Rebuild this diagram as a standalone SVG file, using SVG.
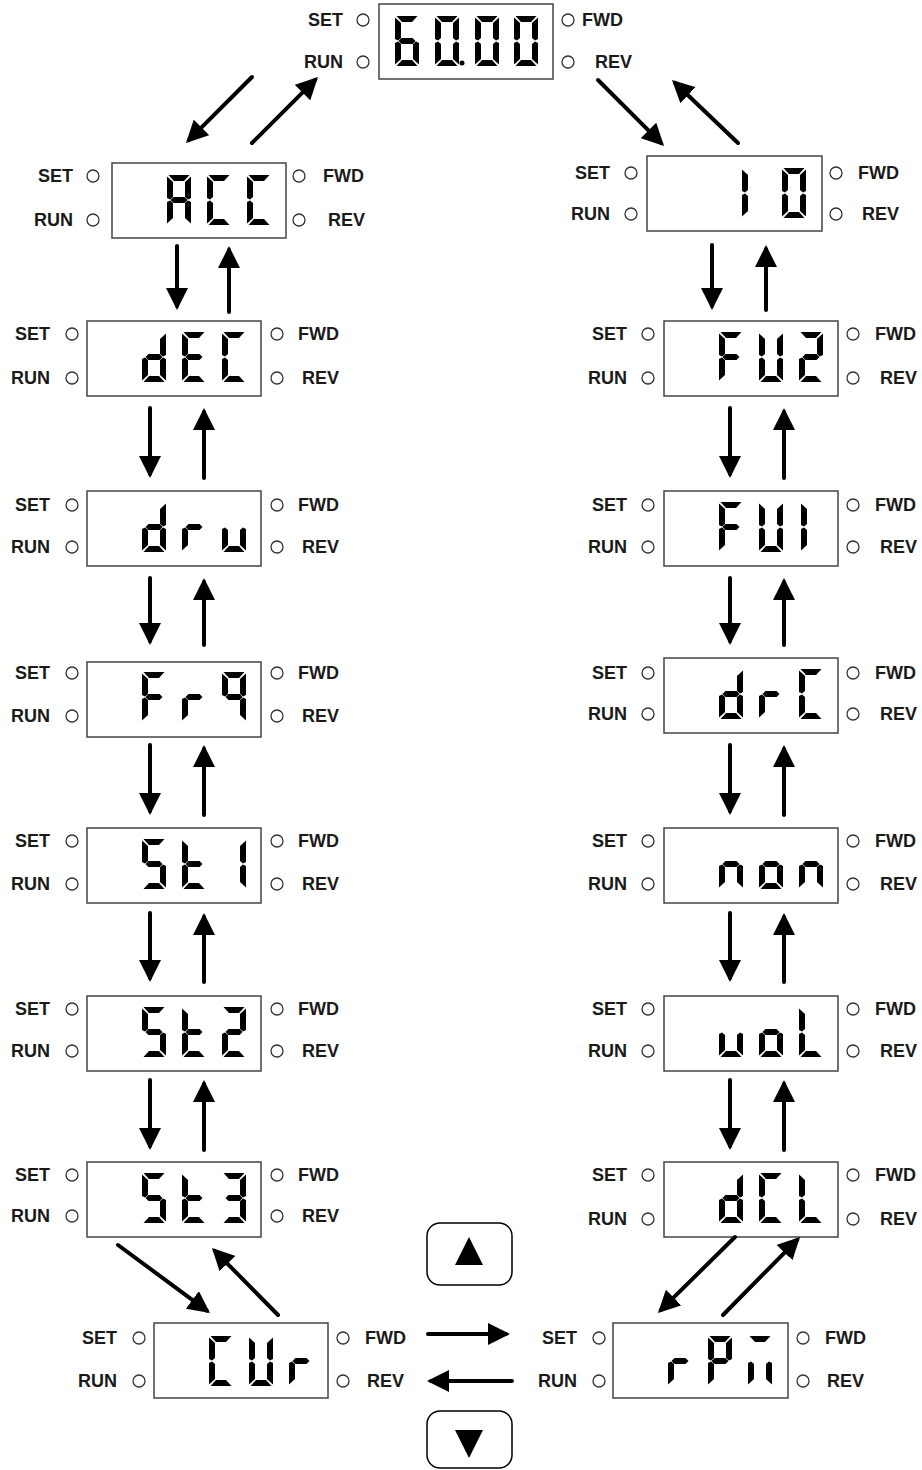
<svg xmlns="http://www.w3.org/2000/svg" width="922" height="1470" viewBox="0 0 922 1470">
<style>
.lbl{font-family:"Liberation Sans",Arial,sans-serif;font-weight:bold;font-size:18px;fill:#1a1a1a}
.end{text-anchor:end}
.box{fill:#fff;stroke:#444;stroke-width:1.5}
.led{fill:#fff;stroke:#333;stroke-width:1.3}
.seg{fill:#000}
.arr{stroke:#000;stroke-width:4;fill:none;stroke-linecap:round;marker-end:url(#ah)}
.btn{fill:#fff;stroke:#000;stroke-width:1.5}
</style>
<defs>
<marker id="ah" markerUnits="userSpaceOnUse" markerWidth="22" markerHeight="22" viewBox="0 0 22 22" refX="18" refY="11" orient="auto"><path d="M0,0L22,11L0,22Z" fill="#000"/></marker>
<path id="sa" d="M1.5,0H22.5L17,6H7Z"/>
<path id="sb" d="M24,1.5V23L21,24.5L18,22V7Z"/>
<path id="sc" d="M24,48.5V27L21,25.5L18,28V43Z"/>
<path id="sd" d="M1.5,50H22.5L17,44H7Z"/>
<path id="se" d="M0,48.5V27L3,25.5L6,28V43Z"/>
<path id="sf" d="M0,1.5V23L3,24.5L6,22V7Z"/>
<path id="sg" d="M3.5,25L6.5,22H17.5L20.5,25L17.5,28H6.5Z"/>
<g id="c-0" class="seg"><use href="#sa"/><use href="#sb"/><use href="#sc"/><use href="#sd"/><use href="#se"/><use href="#sf"/></g>
<g id="c-6" class="seg"><use href="#sa"/><use href="#sc"/><use href="#sd"/><use href="#se"/><use href="#sf"/><use href="#sg"/></g>
<g id="c-A" class="seg"><use href="#sa"/><use href="#sb"/><use href="#sc"/><use href="#se"/><use href="#sf"/><use href="#sg"/></g>
<g id="c-C" class="seg"><use href="#sa"/><use href="#sd"/><use href="#se"/><use href="#sf"/></g>
<g id="c-d" class="seg"><use href="#sb"/><use href="#sc"/><use href="#sd"/><use href="#se"/><use href="#sg"/></g>
<g id="c-E" class="seg"><use href="#sa"/><use href="#sd"/><use href="#se"/><use href="#sf"/><use href="#sg"/></g>
<g id="c-r" class="seg"><use href="#se"/><use href="#sg"/></g>
<g id="c-u" class="seg"><use href="#sc"/><use href="#sd"/><use href="#se"/></g>
<g id="c-F" class="seg"><use href="#sa"/><use href="#se"/><use href="#sf"/><use href="#sg"/></g>
<g id="c-9" class="seg"><use href="#sa"/><use href="#sb"/><use href="#sc"/><use href="#sf"/><use href="#sg"/></g>
<g id="c-5" class="seg"><use href="#sa"/><use href="#sc"/><use href="#sd"/><use href="#sf"/><use href="#sg"/></g>
<g id="c-t" class="seg"><use href="#sd"/><use href="#se"/><use href="#sf"/><use href="#sg"/></g>
<g id="c-1" class="seg"><use href="#sb"/><use href="#sc"/></g>
<g id="c-1l" class="seg"><use href="#se"/><use href="#sf"/></g>
<g id="c-2" class="seg"><use href="#sa"/><use href="#sb"/><use href="#sd"/><use href="#se"/><use href="#sg"/></g>
<g id="c-3" class="seg"><use href="#sa"/><use href="#sb"/><use href="#sc"/><use href="#sd"/><use href="#sg"/></g>
<g id="c-U" class="seg"><use href="#sb"/><use href="#sc"/><use href="#sd"/><use href="#se"/><use href="#sf"/></g>
<g id="c-P" class="seg"><use href="#sa"/><use href="#sb"/><use href="#se"/><use href="#sf"/><use href="#sg"/></g>
<g id="c-m" class="seg"><use href="#sa"/><use href="#sc"/><use href="#se"/></g>
<g id="c-n" class="seg"><use href="#sc"/><use href="#se"/><use href="#sg"/></g>
<g id="c-o" class="seg"><use href="#sc"/><use href="#sd"/><use href="#se"/><use href="#sg"/></g>
<g id="c-L" class="seg"><use href="#sd"/><use href="#se"/><use href="#sf"/></g>
</defs>
<rect width="922" height="1470" fill="#fff"/>

<g id="node-6000" aria-label="60.00">
<rect class="box" x="379" y="4" width="174" height="75"/>
<use href="#c-6" x="395" y="16"/><use href="#c-0" x="435" y="16"/><use href="#c-0" x="475" y="16"/><use href="#c-0" x="514" y="16"/>
<circle cx="462" cy="63" r="2.5" fill="#000"/>
<circle class="led" cx="363" cy="20" r="6"/><text class="lbl end" x="343" y="26">SET</text>
<circle class="led" cx="363" cy="62" r="6"/><text class="lbl end" x="343" y="68">RUN</text>
<circle class="led" cx="568" cy="20" r="6"/><text class="lbl" x="582" y="26">FWD</text>
<circle class="led" cx="568" cy="62" r="6"/><text class="lbl" x="595" y="68">REV</text>
</g>

<g id="node-ACC" aria-label="ACC">
<rect class="box" x="112" y="163" width="174" height="75"/>
<use href="#c-A" x="167" y="175"/><use href="#c-C" x="207" y="175"/><use href="#c-C" x="247" y="175"/>
<circle class="led" cx="93" cy="176" r="6"/><text class="lbl end" x="73" y="182">SET</text>
<circle class="led" cx="93" cy="220" r="6"/><text class="lbl end" x="73" y="226">RUN</text>
<circle class="led" cx="299" cy="176" r="6"/><text class="lbl" x="323" y="182">FWD</text>
<circle class="led" cx="299" cy="220" r="6"/><text class="lbl" x="328" y="226">REV</text>
</g>

<g id="node-dEC" aria-label="dEC">
<rect class="box" x="87" y="321" width="174" height="75"/>
<use href="#c-d" x="142" y="332"/><use href="#c-E" x="182" y="332"/><use href="#c-C" x="222" y="332"/>
<circle class="led" cx="72" cy="334" r="6"/><text class="lbl end" x="50" y="340">SET</text>
<circle class="led" cx="72" cy="378" r="6"/><text class="lbl end" x="50" y="384">RUN</text>
<circle class="led" cx="277" cy="334" r="6"/><text class="lbl" x="298" y="340">FWD</text>
<circle class="led" cx="277" cy="378" r="6"/><text class="lbl" x="302" y="384">REV</text>
</g>

<g id="node-drv" aria-label="dru">
<rect class="box" x="87" y="491" width="174" height="75"/>
<use href="#c-d" x="142" y="502"/><use href="#c-r" x="182" y="502"/><use href="#c-u" x="222" y="502"/>
<circle class="led" cx="72" cy="505" r="6"/><text class="lbl end" x="50" y="511">SET</text>
<circle class="led" cx="72" cy="547" r="6"/><text class="lbl end" x="50" y="553">RUN</text>
<circle class="led" cx="277" cy="505" r="6"/><text class="lbl" x="298" y="511">FWD</text>
<circle class="led" cx="277" cy="547" r="6"/><text class="lbl" x="302" y="553">REV</text>
</g>

<g id="node-Fr9" aria-label="Fr9">
<rect class="box" x="87" y="662" width="174" height="75"/>
<use href="#c-F" x="142" y="672"/><use href="#c-r" x="182" y="672"/><use href="#c-9" x="222" y="672"/>
<circle class="led" cx="72" cy="673" r="6"/><text class="lbl end" x="50" y="679">SET</text>
<circle class="led" cx="72" cy="716" r="6"/><text class="lbl end" x="50" y="722">RUN</text>
<circle class="led" cx="277" cy="673" r="6"/><text class="lbl" x="298" y="679">FWD</text>
<circle class="led" cx="277" cy="716" r="6"/><text class="lbl" x="302" y="722">REV</text>
</g>

<g id="node-St1" aria-label="St1">
<rect class="box" x="87" y="828" width="174" height="75"/>
<use href="#c-5" x="142" y="839"/><use href="#c-t" x="182" y="839"/><use href="#c-1" x="222" y="839"/>
<circle class="led" cx="72" cy="841" r="6"/><text class="lbl end" x="50" y="847">SET</text>
<circle class="led" cx="72" cy="884" r="6"/><text class="lbl end" x="50" y="890">RUN</text>
<circle class="led" cx="277" cy="841" r="6"/><text class="lbl" x="298" y="847">FWD</text>
<circle class="led" cx="277" cy="884" r="6"/><text class="lbl" x="302" y="890">REV</text>
</g>

<g id="node-St2" aria-label="St2">
<rect class="box" x="87" y="996" width="174" height="75"/>
<use href="#c-5" x="142" y="1007"/><use href="#c-t" x="182" y="1007"/><use href="#c-2" x="222" y="1007"/>
<circle class="led" cx="72" cy="1009" r="6"/><text class="lbl end" x="50" y="1015">SET</text>
<circle class="led" cx="72" cy="1051" r="6"/><text class="lbl end" x="50" y="1057">RUN</text>
<circle class="led" cx="277" cy="1009" r="6"/><text class="lbl" x="298" y="1015">FWD</text>
<circle class="led" cx="277" cy="1051" r="6"/><text class="lbl" x="302" y="1057">REV</text>
</g>

<g id="node-St3" aria-label="St3">
<rect class="box" x="87" y="1162" width="174" height="75"/>
<use href="#c-5" x="142" y="1173"/><use href="#c-t" x="182" y="1173"/><use href="#c-3" x="222" y="1173"/>
<circle class="led" cx="72" cy="1175" r="6"/><text class="lbl end" x="50" y="1181">SET</text>
<circle class="led" cx="72" cy="1216" r="6"/><text class="lbl end" x="50" y="1222">RUN</text>
<circle class="led" cx="277" cy="1175" r="6"/><text class="lbl" x="298" y="1181">FWD</text>
<circle class="led" cx="277" cy="1216" r="6"/><text class="lbl" x="302" y="1222">REV</text>
</g>

<g id="node-10" aria-label="10">
<rect class="box" x="647" y="156" width="175" height="75"/>
<use href="#c-1l" x="742" y="168"/><use href="#c-0" x="782" y="168"/>
<circle class="led" cx="631" cy="173" r="6"/><text class="lbl end" x="610" y="179">SET</text>
<circle class="led" cx="631" cy="214" r="6"/><text class="lbl end" x="610" y="220">RUN</text>
<circle class="led" cx="836" cy="173" r="6"/><text class="lbl" x="858" y="179">FWD</text>
<circle class="led" cx="836" cy="214" r="6"/><text class="lbl" x="862" y="220">REV</text>
</g>

<g id="node-FU2" aria-label="FU2">
<rect class="box" x="664" y="321" width="174" height="75"/>
<use href="#c-F" x="719" y="332"/><use href="#c-U" x="759" y="332"/><use href="#c-2" x="799" y="332"/>
<circle class="led" cx="648" cy="334" r="6"/><text class="lbl end" x="627" y="340">SET</text>
<circle class="led" cx="648" cy="378" r="6"/><text class="lbl end" x="627" y="384">RUN</text>
<circle class="led" cx="853" cy="334" r="6"/><text class="lbl" x="875" y="340">FWD</text>
<circle class="led" cx="853" cy="378" r="6"/><text class="lbl" x="880" y="384">REV</text>
</g>

<g id="node-FU1" aria-label="FU1">
<rect class="box" x="664" y="491" width="174" height="75"/>
<use href="#c-F" x="719" y="502"/><use href="#c-U" x="759" y="502"/><use href="#c-1l" x="801" y="502"/>
<circle class="led" cx="648" cy="505" r="6"/><text class="lbl end" x="627" y="511">SET</text>
<circle class="led" cx="648" cy="547" r="6"/><text class="lbl end" x="627" y="553">RUN</text>
<circle class="led" cx="853" cy="505" r="6"/><text class="lbl" x="875" y="511">FWD</text>
<circle class="led" cx="853" cy="547" r="6"/><text class="lbl" x="880" y="553">REV</text>
</g>

<g id="node-drC" aria-label="drC">
<rect class="box" x="664" y="658" width="174" height="75"/>
<use href="#c-d" x="719" y="669"/><use href="#c-r" x="759" y="669"/><use href="#c-C" x="799" y="669"/>
<circle class="led" cx="648" cy="673" r="6"/><text class="lbl end" x="627" y="679">SET</text>
<circle class="led" cx="648" cy="714" r="6"/><text class="lbl end" x="627" y="720">RUN</text>
<circle class="led" cx="853" cy="673" r="6"/><text class="lbl" x="875" y="679">FWD</text>
<circle class="led" cx="853" cy="714" r="6"/><text class="lbl" x="880" y="720">REV</text>
</g>

<g id="node-non" aria-label="non">
<rect class="box" x="664" y="828" width="174" height="75"/>
<use href="#c-n" x="719" y="839"/><use href="#c-o" x="759" y="839"/><use href="#c-n" x="799" y="839"/>
<circle class="led" cx="648" cy="841" r="6"/><text class="lbl end" x="627" y="847">SET</text>
<circle class="led" cx="648" cy="884" r="6"/><text class="lbl end" x="627" y="890">RUN</text>
<circle class="led" cx="853" cy="841" r="6"/><text class="lbl" x="875" y="847">FWD</text>
<circle class="led" cx="853" cy="884" r="6"/><text class="lbl" x="880" y="890">REV</text>
</g>

<g id="node-uoL" aria-label="uoL">
<rect class="box" x="664" y="996" width="174" height="75"/>
<use href="#c-u" x="719" y="1007"/><use href="#c-o" x="759" y="1007"/><use href="#c-L" x="799" y="1007"/>
<circle class="led" cx="648" cy="1009" r="6"/><text class="lbl end" x="627" y="1015">SET</text>
<circle class="led" cx="648" cy="1051" r="6"/><text class="lbl end" x="627" y="1057">RUN</text>
<circle class="led" cx="853" cy="1009" r="6"/><text class="lbl" x="875" y="1015">FWD</text>
<circle class="led" cx="853" cy="1051" r="6"/><text class="lbl" x="880" y="1057">REV</text>
</g>

<g id="node-dCL" aria-label="dCL">
<rect class="box" x="664" y="1162" width="174" height="75"/>
<use href="#c-d" x="719" y="1173"/><use href="#c-C" x="759" y="1173"/><use href="#c-L" x="799" y="1173"/>
<circle class="led" cx="648" cy="1175" r="6"/><text class="lbl end" x="627" y="1181">SET</text>
<circle class="led" cx="648" cy="1219" r="6"/><text class="lbl end" x="627" y="1225">RUN</text>
<circle class="led" cx="853" cy="1175" r="6"/><text class="lbl" x="875" y="1181">FWD</text>
<circle class="led" cx="853" cy="1219" r="6"/><text class="lbl" x="880" y="1225">REV</text>
</g>

<g id="node-CUr" aria-label="CUr">
<rect class="box" x="154" y="1323" width="174" height="75"/>
<use href="#c-C" x="209" y="1336"/><use href="#c-U" x="249" y="1336"/><use href="#c-r" x="289" y="1336"/>
<circle class="led" cx="139" cy="1338" r="6"/><text class="lbl end" x="117" y="1344">SET</text>
<circle class="led" cx="139" cy="1381" r="6"/><text class="lbl end" x="117" y="1387">RUN</text>
<circle class="led" cx="343" cy="1338" r="6"/><text class="lbl" x="365" y="1344">FWD</text>
<circle class="led" cx="343" cy="1381" r="6"/><text class="lbl" x="367" y="1387">REV</text>
</g>

<g id="node-rPm" aria-label="rPm">
<rect class="box" x="613" y="1323" width="175" height="75"/>
<use href="#c-r" x="668" y="1336"/><use href="#c-P" x="708" y="1336"/><use href="#c-m" x="748" y="1336"/>
<circle class="led" cx="599" cy="1338" r="6"/><text class="lbl end" x="577" y="1344">SET</text>
<circle class="led" cx="599" cy="1381" r="6"/><text class="lbl end" x="577" y="1387">RUN</text>
<circle class="led" cx="803" cy="1338" r="6"/><text class="lbl" x="825" y="1344">FWD</text>
<circle class="led" cx="803" cy="1381" r="6"/><text class="lbl" x="827" y="1387">REV</text>
</g>

<g id="btn-up">
<rect class="btn" x="427" y="1223" width="85" height="62" rx="13"/>
<path d="M469,1237L483,1265H455Z" fill="#000"/>
</g>
<g id="btn-down">
<rect class="btn" x="427" y="1411" width="85" height="57" rx="13"/>
<path d="M455,1430H483L469,1458Z" fill="#000"/>
</g>

<g id="connectors">
<line class="arr" x1="252" y1="77" x2="188.8" y2="140.2"/>
<line class="arr" x1="252" y1="143" x2="315.2" y2="79.8"/>
<line class="arr" x1="598" y1="80" x2="661.2" y2="143.2"/>
<line class="arr" x1="738" y1="143" x2="674.9" y2="82.8"/>

<line class="arr" x1="177" y1="246" x2="177" y2="306"/>
<line class="arr" x1="229" y1="312" x2="229" y2="250"/>
<line class="arr" x1="150" y1="408" x2="150" y2="474"/>
<line class="arr" x1="204" y1="478" x2="204" y2="412"/>
<line class="arr" x1="150" y1="578" x2="150" y2="641"/>
<line class="arr" x1="204" y1="645" x2="204" y2="582"/>
<line class="arr" x1="150" y1="745" x2="150" y2="811"/>
<line class="arr" x1="204" y1="815" x2="204" y2="749"/>
<line class="arr" x1="150" y1="913" x2="150" y2="978"/>
<line class="arr" x1="204" y1="982" x2="204" y2="917"/>
<line class="arr" x1="150" y1="1080" x2="150" y2="1146"/>
<line class="arr" x1="204" y1="1150" x2="204" y2="1084"/>

<line class="arr" x1="712" y1="245" x2="712" y2="306"/>
<line class="arr" x1="766" y1="310" x2="766" y2="249"/>
<line class="arr" x1="730" y1="408" x2="730" y2="474"/>
<line class="arr" x1="784" y1="478" x2="784" y2="412"/>
<line class="arr" x1="730" y1="578" x2="730" y2="641"/>
<line class="arr" x1="784" y1="645" x2="784" y2="582"/>
<line class="arr" x1="730" y1="745" x2="730" y2="811"/>
<line class="arr" x1="784" y1="815" x2="784" y2="749"/>
<line class="arr" x1="730" y1="913" x2="730" y2="978"/>
<line class="arr" x1="784" y1="982" x2="784" y2="917"/>
<line class="arr" x1="730" y1="1080" x2="730" y2="1146"/>
<line class="arr" x1="784" y1="1150" x2="784" y2="1084"/>

<line class="arr" x1="118" y1="1245" x2="206.8" y2="1310.6"/>
<line class="arr" x1="278" y1="1315" x2="214.8" y2="1250.8"/>
<line class="arr" x1="735" y1="1237" x2="660.8" y2="1310.2"/>
<line class="arr" x1="723" y1="1315" x2="797.2" y2="1239.8"/>

<line class="arr" x1="428" y1="1334" x2="506" y2="1334"/>
<line class="arr" x1="512" y1="1381" x2="431" y2="1381"/>
</g>
</svg>
